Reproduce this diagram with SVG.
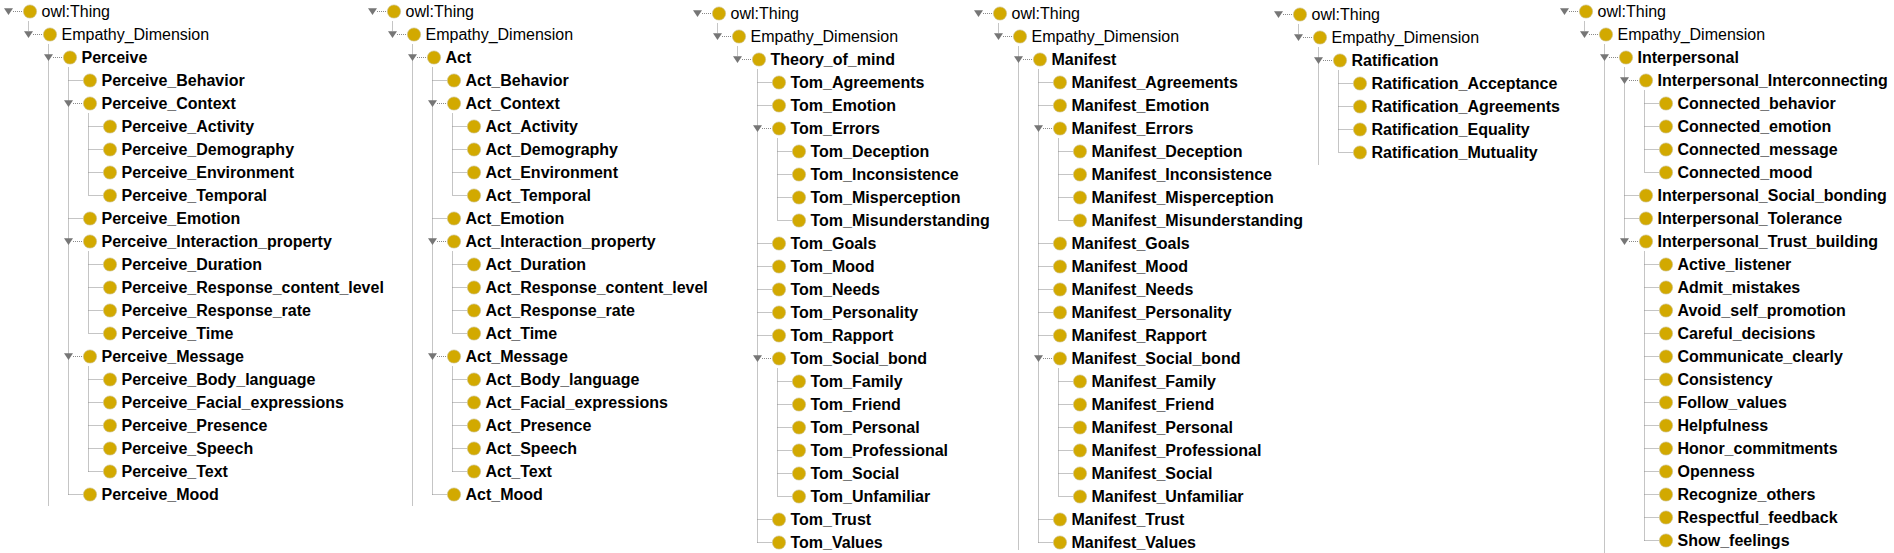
<svg xmlns="http://www.w3.org/2000/svg" xmlns:xlink="http://www.w3.org/1999/xlink" width="1894" height="553" viewBox="0 0 1894 553">
<style>
text{font-family:"Liberation Sans",Arial,sans-serif;font-size:16px;fill:#000}
.b{font-weight:bold}
.dot{fill:#D2A900;stroke:#c8bd8c;stroke-width:0.6}
.tri{fill:#767676}
.con{fill:none;stroke:#8a8a8a;stroke-width:1;stroke-dasharray:1 1}
</style>
<defs>
<circle id="ic" class="dot" r="6.6" cx="0" cy="0"/>
<polygon id="tri" class="tri" points="-26,-3.2 -17,-3.2 -21.5,3.4"/>
</defs>
<rect width="1894" height="553" fill="#fff"/>

<g id="connectors">
<path class="con" transform="translate(0,11.5)" d="M28.5 10V20M48.5 33V494M68.5 56V483M88.5 102V184M88.5 240V322M88.5 355V460M13 0H23M33 23H43M53 46H63M73 92H83M73 230H83M73 345H83M68.5 69H83M68.5 207H83M68.5 483H83M88.5 115H103M88.5 138H103M88.5 161H103M88.5 184H103M88.5 253H103M88.5 276H103M88.5 299H103M88.5 322H103M88.5 368H103M88.5 391H103M88.5 414H103M88.5 437H103M88.5 460H103"/>
<path class="con" transform="translate(364,11.5)" d="M28.5 10V20M48.5 33V494M68.5 56V483M88.5 102V184M88.5 240V322M88.5 355V460M13 0H23M33 23H43M53 46H63M73 92H83M73 230H83M73 345H83M68.5 69H83M68.5 207H83M68.5 483H83M88.5 115H103M88.5 138H103M88.5 161H103M88.5 184H103M88.5 253H103M88.5 276H103M88.5 299H103M88.5 322H103M88.5 368H103M88.5 391H103M88.5 414H103M88.5 437H103M88.5 460H103"/>
<path class="con" transform="translate(689,13.5)" d="M28.5 10V20M48.5 33V43M68.5 56V529M88.5 125V207M88.5 355V483M13 0H23M33 23H43M53 46H63M73 115H83M73 345H83M68.5 69H83M68.5 92H83M68.5 230H83M68.5 253H83M68.5 276H83M68.5 299H83M68.5 322H83M68.5 506H83M68.5 529H83M88.5 138H103M88.5 161H103M88.5 184H103M88.5 207H103M88.5 368H103M88.5 391H103M88.5 414H103M88.5 437H103M88.5 460H103M88.5 483H103"/>
<path class="con" transform="translate(970,13.5)" d="M28.5 10V20M48.5 33V536M68.5 56V529M88.5 125V207M88.5 355V483M13 0H23M33 23H43M53 46H63M73 115H83M73 345H83M68.5 69H83M68.5 92H83M68.5 230H83M68.5 253H83M68.5 276H83M68.5 299H83M68.5 322H83M68.5 506H83M68.5 529H83M88.5 138H103M88.5 161H103M88.5 184H103M88.5 207H103M88.5 368H103M88.5 391H103M88.5 414H103M88.5 437H103M88.5 460H103M88.5 483H103"/>
<path class="con" transform="translate(1270,14.5)" d="M28.5 10V20M48.5 33V150M68.5 56V138M13 0H23M33 23H43M53 46H63M68.5 69H83M68.5 92H83M68.5 115H83M68.5 138H83"/>
<path class="con" transform="translate(1556,11.5)" d="M28.5 10V20M48.5 33V542M68.5 56V227M88.5 79V161M88.5 240V529M13 0H23M33 23H43M53 46H63M73 69H83M73 230H83M68.5 184H83M68.5 207H83M88.5 92H103M88.5 115H103M88.5 138H103M88.5 161H103M88.5 253H103M88.5 276H103M88.5 299H103M88.5 322H103M88.5 345H103M88.5 368H103M88.5 391H103M88.5 414H103M88.5 437H103M88.5 460H103M88.5 483H103M88.5 506H103M88.5 529H103"/>
</g>

<g id="col-perceive" transform="translate(0,11.5)">
<g id="p-thing" transform="translate(30,0)"><use href="#tri"/><use href="#ic"/><text x="11.5" y="5.5">owl:Thing</text></g>
<g id="p-empathy" transform="translate(50,23)"><use href="#tri"/><use href="#ic"/><text x="11.5" y="5.5">Empathy_Dimension</text></g>
<g id="p-perceive" transform="translate(70,46)"><use href="#tri"/><use href="#ic"/><text class="b" x="11.5" y="5.5">Perceive</text></g>
<g id="p-behavior" transform="translate(90,69)"><use href="#ic"/><text class="b" x="11.5" y="5.5">Perceive_Behavior</text></g>
<g id="p-context" transform="translate(90,92)"><use href="#tri"/><use href="#ic"/><text class="b" x="11.5" y="5.5">Perceive_Context</text></g>
<g id="p-activity" transform="translate(110,115)"><use href="#ic"/><text class="b" x="11.5" y="5.5">Perceive_Activity</text></g>
<g id="p-demography" transform="translate(110,138)"><use href="#ic"/><text class="b" x="11.5" y="5.5">Perceive_Demography</text></g>
<g id="p-environment" transform="translate(110,161)"><use href="#ic"/><text class="b" x="11.5" y="5.5">Perceive_Environment</text></g>
<g id="p-temporal" transform="translate(110,184)"><use href="#ic"/><text class="b" x="11.5" y="5.5">Perceive_Temporal</text></g>
<g id="p-emotion" transform="translate(90,207)"><use href="#ic"/><text class="b" x="11.5" y="5.5">Perceive_Emotion</text></g>
<g id="p-interaction" transform="translate(90,230)"><use href="#tri"/><use href="#ic"/><text class="b" x="11.5" y="5.5">Perceive_Interaction_property</text></g>
<g id="p-duration" transform="translate(110,253)"><use href="#ic"/><text class="b" x="11.5" y="5.5">Perceive_Duration</text></g>
<g id="p-rcl" transform="translate(110,276)"><use href="#ic"/><text class="b" x="11.5" y="5.5">Perceive_Response_content_level</text></g>
<g id="p-rr" transform="translate(110,299)"><use href="#ic"/><text class="b" x="11.5" y="5.5">Perceive_Response_rate</text></g>
<g id="p-time" transform="translate(110,322)"><use href="#ic"/><text class="b" x="11.5" y="5.5">Perceive_Time</text></g>
<g id="p-message" transform="translate(90,345)"><use href="#tri"/><use href="#ic"/><text class="b" x="11.5" y="5.5">Perceive_Message</text></g>
<g id="p-body" transform="translate(110,368)"><use href="#ic"/><text class="b" x="11.5" y="5.5">Perceive_Body_language</text></g>
<g id="p-facial" transform="translate(110,391)"><use href="#ic"/><text class="b" x="11.5" y="5.5">Perceive_Facial_expressions</text></g>
<g id="p-presence" transform="translate(110,414)"><use href="#ic"/><text class="b" x="11.5" y="5.5">Perceive_Presence</text></g>
<g id="p-speech" transform="translate(110,437)"><use href="#ic"/><text class="b" x="11.5" y="5.5">Perceive_Speech</text></g>
<g id="p-text" transform="translate(110,460)"><use href="#ic"/><text class="b" x="11.5" y="5.5">Perceive_Text</text></g>
<g id="p-mood" transform="translate(90,483)"><use href="#ic"/><text class="b" x="11.5" y="5.5">Perceive_Mood</text></g>
</g>

<g id="col-act" transform="translate(364,11.5)">
<g id="a-thing" transform="translate(30,0)"><use href="#tri"/><use href="#ic"/><text x="11.5" y="5.5">owl:Thing</text></g>
<g id="a-empathy" transform="translate(50,23)"><use href="#tri"/><use href="#ic"/><text x="11.5" y="5.5">Empathy_Dimension</text></g>
<g id="a-act" transform="translate(70,46)"><use href="#tri"/><use href="#ic"/><text class="b" x="11.5" y="5.5">Act</text></g>
<g id="a-behavior" transform="translate(90,69)"><use href="#ic"/><text class="b" x="11.5" y="5.5">Act_Behavior</text></g>
<g id="a-context" transform="translate(90,92)"><use href="#tri"/><use href="#ic"/><text class="b" x="11.5" y="5.5">Act_Context</text></g>
<g id="a-activity" transform="translate(110,115)"><use href="#ic"/><text class="b" x="11.5" y="5.5">Act_Activity</text></g>
<g id="a-demography" transform="translate(110,138)"><use href="#ic"/><text class="b" x="11.5" y="5.5">Act_Demography</text></g>
<g id="a-environment" transform="translate(110,161)"><use href="#ic"/><text class="b" x="11.5" y="5.5">Act_Environment</text></g>
<g id="a-temporal" transform="translate(110,184)"><use href="#ic"/><text class="b" x="11.5" y="5.5">Act_Temporal</text></g>
<g id="a-emotion" transform="translate(90,207)"><use href="#ic"/><text class="b" x="11.5" y="5.5">Act_Emotion</text></g>
<g id="a-interaction" transform="translate(90,230)"><use href="#tri"/><use href="#ic"/><text class="b" x="11.5" y="5.5">Act_Interaction_property</text></g>
<g id="a-duration" transform="translate(110,253)"><use href="#ic"/><text class="b" x="11.5" y="5.5">Act_Duration</text></g>
<g id="a-rcl" transform="translate(110,276)"><use href="#ic"/><text class="b" x="11.5" y="5.5">Act_Response_content_level</text></g>
<g id="a-rr" transform="translate(110,299)"><use href="#ic"/><text class="b" x="11.5" y="5.5">Act_Response_rate</text></g>
<g id="a-time" transform="translate(110,322)"><use href="#ic"/><text class="b" x="11.5" y="5.5">Act_Time</text></g>
<g id="a-message" transform="translate(90,345)"><use href="#tri"/><use href="#ic"/><text class="b" x="11.5" y="5.5">Act_Message</text></g>
<g id="a-body" transform="translate(110,368)"><use href="#ic"/><text class="b" x="11.5" y="5.5">Act_Body_language</text></g>
<g id="a-facial" transform="translate(110,391)"><use href="#ic"/><text class="b" x="11.5" y="5.5">Act_Facial_expressions</text></g>
<g id="a-presence" transform="translate(110,414)"><use href="#ic"/><text class="b" x="11.5" y="5.5">Act_Presence</text></g>
<g id="a-speech" transform="translate(110,437)"><use href="#ic"/><text class="b" x="11.5" y="5.5">Act_Speech</text></g>
<g id="a-text" transform="translate(110,460)"><use href="#ic"/><text class="b" x="11.5" y="5.5">Act_Text</text></g>
<g id="a-mood" transform="translate(90,483)"><use href="#ic"/><text class="b" x="11.5" y="5.5">Act_Mood</text></g>
</g>

<g id="col-tom" transform="translate(689,13.5)">
<g id="t-thing" transform="translate(30,0)"><use href="#tri"/><use href="#ic"/><text x="11.5" y="5.5">owl:Thing</text></g>
<g id="t-empathy" transform="translate(50,23)"><use href="#tri"/><use href="#ic"/><text x="11.5" y="5.5">Empathy_Dimension</text></g>
<g id="t-tom" transform="translate(70,46)"><use href="#tri"/><use href="#ic"/><text class="b" x="11.5" y="5.5">Theory_of_mind</text></g>
<g id="t-agreements" transform="translate(90,69)"><use href="#ic"/><text class="b" x="11.5" y="5.5">Tom_Agreements</text></g>
<g id="t-emotion" transform="translate(90,92)"><use href="#ic"/><text class="b" x="11.5" y="5.5">Tom_Emotion</text></g>
<g id="t-errors" transform="translate(90,115)"><use href="#tri"/><use href="#ic"/><text class="b" x="11.5" y="5.5">Tom_Errors</text></g>
<g id="t-deception" transform="translate(110,138)"><use href="#ic"/><text class="b" x="11.5" y="5.5">Tom_Deception</text></g>
<g id="t-inconsistence" transform="translate(110,161)"><use href="#ic"/><text class="b" x="11.5" y="5.5">Tom_Inconsistence</text></g>
<g id="t-misperception" transform="translate(110,184)"><use href="#ic"/><text class="b" x="11.5" y="5.5">Tom_Misperception</text></g>
<g id="t-misunderstanding" transform="translate(110,207)"><use href="#ic"/><text class="b" x="11.5" y="5.5">Tom_Misunderstanding</text></g>
<g id="t-goals" transform="translate(90,230)"><use href="#ic"/><text class="b" x="11.5" y="5.5">Tom_Goals</text></g>
<g id="t-mood" transform="translate(90,253)"><use href="#ic"/><text class="b" x="11.5" y="5.5">Tom_Mood</text></g>
<g id="t-needs" transform="translate(90,276)"><use href="#ic"/><text class="b" x="11.5" y="5.5">Tom_Needs</text></g>
<g id="t-personality" transform="translate(90,299)"><use href="#ic"/><text class="b" x="11.5" y="5.5">Tom_Personality</text></g>
<g id="t-rapport" transform="translate(90,322)"><use href="#ic"/><text class="b" x="11.5" y="5.5">Tom_Rapport</text></g>
<g id="t-socialbond" transform="translate(90,345)"><use href="#tri"/><use href="#ic"/><text class="b" x="11.5" y="5.5">Tom_Social_bond</text></g>
<g id="t-family" transform="translate(110,368)"><use href="#ic"/><text class="b" x="11.5" y="5.5">Tom_Family</text></g>
<g id="t-friend" transform="translate(110,391)"><use href="#ic"/><text class="b" x="11.5" y="5.5">Tom_Friend</text></g>
<g id="t-personal" transform="translate(110,414)"><use href="#ic"/><text class="b" x="11.5" y="5.5">Tom_Personal</text></g>
<g id="t-professional" transform="translate(110,437)"><use href="#ic"/><text class="b" x="11.5" y="5.5">Tom_Professional</text></g>
<g id="t-social" transform="translate(110,460)"><use href="#ic"/><text class="b" x="11.5" y="5.5">Tom_Social</text></g>
<g id="t-unfamiliar" transform="translate(110,483)"><use href="#ic"/><text class="b" x="11.5" y="5.5">Tom_Unfamiliar</text></g>
<g id="t-trust" transform="translate(90,506)"><use href="#ic"/><text class="b" x="11.5" y="5.5">Tom_Trust</text></g>
<g id="t-values" transform="translate(90,529)"><use href="#ic"/><text class="b" x="11.5" y="5.5">Tom_Values</text></g>
</g>

<g id="col-manifest" transform="translate(970,13.5)">
<g id="m-thing" transform="translate(30,0)"><use href="#tri"/><use href="#ic"/><text x="11.5" y="5.5">owl:Thing</text></g>
<g id="m-empathy" transform="translate(50,23)"><use href="#tri"/><use href="#ic"/><text x="11.5" y="5.5">Empathy_Dimension</text></g>
<g id="m-manifest" transform="translate(70,46)"><use href="#tri"/><use href="#ic"/><text class="b" x="11.5" y="5.5">Manifest</text></g>
<g id="m-agreements" transform="translate(90,69)"><use href="#ic"/><text class="b" x="11.5" y="5.5">Manifest_Agreements</text></g>
<g id="m-emotion" transform="translate(90,92)"><use href="#ic"/><text class="b" x="11.5" y="5.5">Manifest_Emotion</text></g>
<g id="m-errors" transform="translate(90,115)"><use href="#tri"/><use href="#ic"/><text class="b" x="11.5" y="5.5">Manifest_Errors</text></g>
<g id="m-deception" transform="translate(110,138)"><use href="#ic"/><text class="b" x="11.5" y="5.5">Manifest_Deception</text></g>
<g id="m-inconsistence" transform="translate(110,161)"><use href="#ic"/><text class="b" x="11.5" y="5.5">Manifest_Inconsistence</text></g>
<g id="m-misperception" transform="translate(110,184)"><use href="#ic"/><text class="b" x="11.5" y="5.5">Manifest_Misperception</text></g>
<g id="m-misunderstanding" transform="translate(110,207)"><use href="#ic"/><text class="b" x="11.5" y="5.5">Manifest_Misunderstanding</text></g>
<g id="m-goals" transform="translate(90,230)"><use href="#ic"/><text class="b" x="11.5" y="5.5">Manifest_Goals</text></g>
<g id="m-mood" transform="translate(90,253)"><use href="#ic"/><text class="b" x="11.5" y="5.5">Manifest_Mood</text></g>
<g id="m-needs" transform="translate(90,276)"><use href="#ic"/><text class="b" x="11.5" y="5.5">Manifest_Needs</text></g>
<g id="m-personality" transform="translate(90,299)"><use href="#ic"/><text class="b" x="11.5" y="5.5">Manifest_Personality</text></g>
<g id="m-rapport" transform="translate(90,322)"><use href="#ic"/><text class="b" x="11.5" y="5.5">Manifest_Rapport</text></g>
<g id="m-socialbond" transform="translate(90,345)"><use href="#tri"/><use href="#ic"/><text class="b" x="11.5" y="5.5">Manifest_Social_bond</text></g>
<g id="m-family" transform="translate(110,368)"><use href="#ic"/><text class="b" x="11.5" y="5.5">Manifest_Family</text></g>
<g id="m-friend" transform="translate(110,391)"><use href="#ic"/><text class="b" x="11.5" y="5.5">Manifest_Friend</text></g>
<g id="m-personal" transform="translate(110,414)"><use href="#ic"/><text class="b" x="11.5" y="5.5">Manifest_Personal</text></g>
<g id="m-professional" transform="translate(110,437)"><use href="#ic"/><text class="b" x="11.5" y="5.5">Manifest_Professional</text></g>
<g id="m-social" transform="translate(110,460)"><use href="#ic"/><text class="b" x="11.5" y="5.5">Manifest_Social</text></g>
<g id="m-unfamiliar" transform="translate(110,483)"><use href="#ic"/><text class="b" x="11.5" y="5.5">Manifest_Unfamiliar</text></g>
<g id="m-trust" transform="translate(90,506)"><use href="#ic"/><text class="b" x="11.5" y="5.5">Manifest_Trust</text></g>
<g id="m-values" transform="translate(90,529)"><use href="#ic"/><text class="b" x="11.5" y="5.5">Manifest_Values</text></g>
</g>

<g id="col-ratification" transform="translate(1270,14.5)">
<g id="r-thing" transform="translate(30,0)"><use href="#tri"/><use href="#ic"/><text x="11.5" y="5.5">owl:Thing</text></g>
<g id="r-empathy" transform="translate(50,23)"><use href="#tri"/><use href="#ic"/><text x="11.5" y="5.5">Empathy_Dimension</text></g>
<g id="r-ratification" transform="translate(70,46)"><use href="#tri"/><use href="#ic"/><text class="b" x="11.5" y="5.5">Ratification</text></g>
<g id="r-acceptance" transform="translate(90,69)"><use href="#ic"/><text class="b" x="11.5" y="5.5">Ratification_Acceptance</text></g>
<g id="r-agreements" transform="translate(90,92)"><use href="#ic"/><text class="b" x="11.5" y="5.5">Ratification_Agreements</text></g>
<g id="r-equality" transform="translate(90,115)"><use href="#ic"/><text class="b" x="11.5" y="5.5">Ratification_Equality</text></g>
<g id="r-mutuality" transform="translate(90,138)"><use href="#ic"/><text class="b" x="11.5" y="5.5">Ratification_Mutuality</text></g>
</g>

<g id="col-interpersonal" transform="translate(1556,11.5)">
<g id="i-thing" transform="translate(30,0)"><use href="#tri"/><use href="#ic"/><text x="11.5" y="5.5">owl:Thing</text></g>
<g id="i-empathy" transform="translate(50,23)"><use href="#tri"/><use href="#ic"/><text x="11.5" y="5.5">Empathy_Dimension</text></g>
<g id="i-interpersonal" transform="translate(70,46)"><use href="#tri"/><use href="#ic"/><text class="b" x="11.5" y="5.5">Interpersonal</text></g>
<g id="i-interconnecting" transform="translate(90,69)"><use href="#tri"/><use href="#ic"/><text class="b" x="11.5" y="5.5">Interpersonal_Interconnecting</text></g>
<g id="i-c-behavior" transform="translate(110,92)"><use href="#ic"/><text class="b" x="11.5" y="5.5">Connected_behavior</text></g>
<g id="i-c-emotion" transform="translate(110,115)"><use href="#ic"/><text class="b" x="11.5" y="5.5">Connected_emotion</text></g>
<g id="i-c-message" transform="translate(110,138)"><use href="#ic"/><text class="b" x="11.5" y="5.5">Connected_message</text></g>
<g id="i-c-mood" transform="translate(110,161)"><use href="#ic"/><text class="b" x="11.5" y="5.5">Connected_mood</text></g>
<g id="i-socialbonding" transform="translate(90,184)"><use href="#ic"/><text class="b" x="11.5" y="5.5">Interpersonal_Social_bonding</text></g>
<g id="i-tolerance" transform="translate(90,207)"><use href="#ic"/><text class="b" x="11.5" y="5.5">Interpersonal_Tolerance</text></g>
<g id="i-trustbuilding" transform="translate(90,230)"><use href="#tri"/><use href="#ic"/><text class="b" x="11.5" y="5.5">Interpersonal_Trust_building</text></g>
<g id="i-active" transform="translate(110,253)"><use href="#ic"/><text class="b" x="11.5" y="5.5">Active_listener</text></g>
<g id="i-admit" transform="translate(110,276)"><use href="#ic"/><text class="b" x="11.5" y="5.5">Admit_mistakes</text></g>
<g id="i-avoid" transform="translate(110,299)"><use href="#ic"/><text class="b" x="11.5" y="5.5">Avoid_self_promotion</text></g>
<g id="i-careful" transform="translate(110,322)"><use href="#ic"/><text class="b" x="11.5" y="5.5">Careful_decisions</text></g>
<g id="i-communicate" transform="translate(110,345)"><use href="#ic"/><text class="b" x="11.5" y="5.5">Communicate_clearly</text></g>
<g id="i-consistency" transform="translate(110,368)"><use href="#ic"/><text class="b" x="11.5" y="5.5">Consistency</text></g>
<g id="i-follow" transform="translate(110,391)"><use href="#ic"/><text class="b" x="11.5" y="5.5">Follow_values</text></g>
<g id="i-helpfulness" transform="translate(110,414)"><use href="#ic"/><text class="b" x="11.5" y="5.5">Helpfulness</text></g>
<g id="i-honor" transform="translate(110,437)"><use href="#ic"/><text class="b" x="11.5" y="5.5">Honor_commitments</text></g>
<g id="i-openness" transform="translate(110,460)"><use href="#ic"/><text class="b" x="11.5" y="5.5">Openness</text></g>
<g id="i-recognize" transform="translate(110,483)"><use href="#ic"/><text class="b" x="11.5" y="5.5">Recognize_others</text></g>
<g id="i-respectful" transform="translate(110,506)"><use href="#ic"/><text class="b" x="11.5" y="5.5">Respectful_feedback</text></g>
<g id="i-show" transform="translate(110,529)"><use href="#ic"/><text class="b" x="11.5" y="5.5">Show_feelings</text></g>
</g>
</svg>
